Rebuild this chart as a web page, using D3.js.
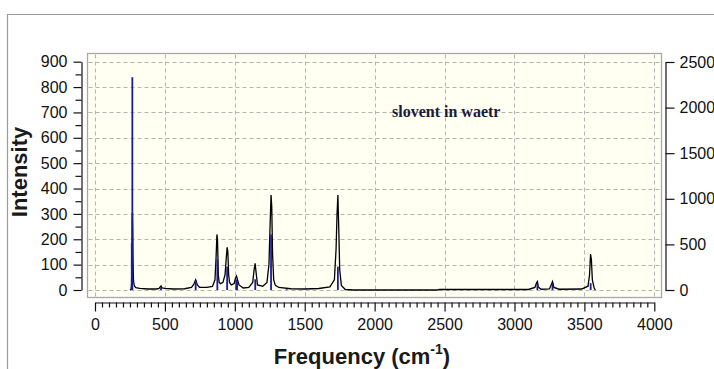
<!DOCTYPE html>
<html><head><meta charset="utf-8">
<script src="https://cdn.jsdelivr.net/npm/d3@7"></script>
<style>
body{margin:0;background:#fff;}
svg{display:block;font-family:Arial,"Liberation Sans",sans-serif;}
</style>
</head><body>
<svg id="c" width="714" height="369"></svg>
<script>
// ---- data ----
const xTicks = [0,500,1000,1500,2000,2500,3000,3500,4000];
const leftTicks = [0,100,200,300,400,500,600,700,800,900];
const rightTicks = [0,500,1000,1500,2000,2500];
const note = "slovent in waetr";

// broadened spectrum (left axis)
const curveFreq = [250,258,261,264,266,268,270,272,275,279,284,292,320,380,440,458,472,480,500,560,640,690,706,720,732,748,800,840,858,866,872,876,882,888,898,915,930,938,945,950,956,962,975,995,1004,1012,1020,1030,1060,1100,1128,1138,1145,1152,1162,1200,1230,1244,1252,1259,1264,1270,1278,1290,1315,1400,1500,1600,1680,1712,1724,1731,1737,1743,1750,1762,1790,1850,2450,2460,3100,3146,3158,3164,3170,3190,3250,3262,3272,3282,3320,3480,3526,3537,3544,3550,3557,3570,3578];
const curveInt  = [0,3,20,120,280,305,240,120,40,22,14,9,6,4,4,6,16,8,6,4,5,10,22,40,20,10,10,14,40,130,219,200,60,30,25,30,60,120,168,150,60,30,20,25,45,55,40,20,8,10,30,80,105,70,20,15,30,100,250,374,330,140,40,18,10,5,4,6,12,40,160,300,374,250,80,18,2,0,0,2,2,10,28,33,12,3,4,20,33,10,3,4,15,60,142,120,40,8,0];

// stick spectrum (right axis)
const stickFreq = [263,267,472,720,875,945,1010,1016,1146,1259,1371,1494,1737,3164,3272,3545];
const stickInt  = [514,2333,33,111,336,256,117,100,117,608,8,8,256,69,69,75];

// ---- drawing ----
const svg = d3.select("#c");
const x  = d3.scaleLinear().domain([0,4000]).range([95,654.3]);
const yL = d3.scaleLinear().domain([0,900]).range([290,61.7]);
const yR = d3.scaleLinear().domain([0,2500]).range([290,62]);

// outer window border
svg.append("path").attr("d","M7.5,369 V14.5 H714").attr("fill","none").attr("stroke","#9a9a9a").attr("stroke-width",1.2);

// plot frame
const fx0=87.5, fx1=661.5, fy0=53.5, fy1=297.5;
svg.append("rect").attr("x",fx0).attr("y",fy0).attr("width",fx1-fx0).attr("height",fy1-fy0)
  .attr("fill","#fffff2").attr("stroke","#a8a8a8").attr("stroke-width",1.3);

// grid
const grid = svg.append("g").attr("stroke","#b4b4b4").attr("stroke-dasharray","4,3").attr("stroke-width",1);
grid.selectAll("line.h").data(leftTicks).join("line")
  .attr("x1",fx0+1).attr("x2",fx1-1).attr("y1",d=>Math.round(yL(d))+0.5).attr("y2",d=>Math.round(yL(d))+0.5);
grid.selectAll("line.v").data(xTicks).join("line")
  .attr("y1",fy0+1).attr("y2",fy1-1).attr("x1",d=>Math.round(x(d))+0.5).attr("x2",d=>Math.round(x(d))+0.5);

// curve
const pts = curveFreq.map((f,i)=>[f,curveInt[i]]);
svg.append("path").datum(pts)
  .attr("d",d3.line().x(d=>x(d[0])).y(d=>yL(d[1])))
  .attr("fill","none").attr("stroke","#000").attr("stroke-width",1.3);

// sticks
svg.append("g").selectAll("line").data(stickFreq).join("line")
  .attr("x1",d=>x(d)).attr("x2",d=>x(d))
  .attr("y1",yR(0)).attr("y2",(d,i)=>yR(stickInt[i]))
  .attr("stroke","#1c1c9a").attr("stroke-width",1.8);

// axes
const fmt = d3.format("d");
const tickFont = g => g.selectAll("text").attr("font-size","16px").attr("fill","#111").attr("font-family","Arial, 'Liberation Sans', sans-serif");
const minorL = d3.range(50,900,100);
const gL = svg.append("g").attr("transform","translate(81.5,0)")
  .call(d3.axisLeft(yL).tickValues(leftTicks).tickFormat(fmt).tickSize(8).tickSizeOuter(0).tickPadding(6));
gL.call(tickFont);
svg.append("g").attr("transform","translate(81.5,0)")
  .call(d3.axisLeft(yL).tickValues(minorL).tickSize(6).tickFormat("").tickSizeOuter(0))
  .select(".domain").remove();

const gR = svg.append("g").attr("transform","translate(665.5,0)")
  .call(d3.axisRight(yR).tickValues(rightTicks).tickFormat(fmt).tickSize(9).tickSizeOuter(0).tickPadding(5));
gR.call(tickFont);

const gX = svg.append("g").attr("transform","translate(0,302.5)")
  .call(d3.axisBottom(x).tickValues(xTicks).tickFormat(fmt).tickSize(9).tickSizeOuter(0).tickPadding(7));
gX.call(tickFont);
svg.append("g").attr("transform","translate(0,302.5)")
  .call(d3.axisBottom(x).tickValues(d3.range(50,4000,50).filter(v=>v%500!==0)).tickSize(5).tickFormat("").tickSizeOuter(0))
  .select(".domain").remove();
svg.selectAll(".domain, .tick line").attr("stroke","#111").attr("stroke-width",1.2);

// axis titles
svg.append("text").attr("transform","translate(27,172) rotate(-90)")
  .attr("text-anchor","middle").attr("font-size","22px").attr("font-weight","bold").attr("fill","#1a1a1a").text("Intensity");
const xt = svg.append("text").attr("x",362).attr("y",364).attr("text-anchor","middle")
  .attr("font-size","22px").attr("font-weight","bold").attr("fill","#1a1a1a");
xt.append("tspan").text("Frequency (cm");
xt.append("tspan").attr("font-size","14px").attr("dy","-10").text("-1");
xt.append("tspan").attr("dy","10").text(")");

// annotation
svg.append("text").attr("x",392).attr("y",117).attr("font-family","'Liberation Serif','Times New Roman',serif")
  .attr("font-weight","bold").attr("font-size","16px").attr("fill","#1b1b38").text(note);
</script>
</body></html>
